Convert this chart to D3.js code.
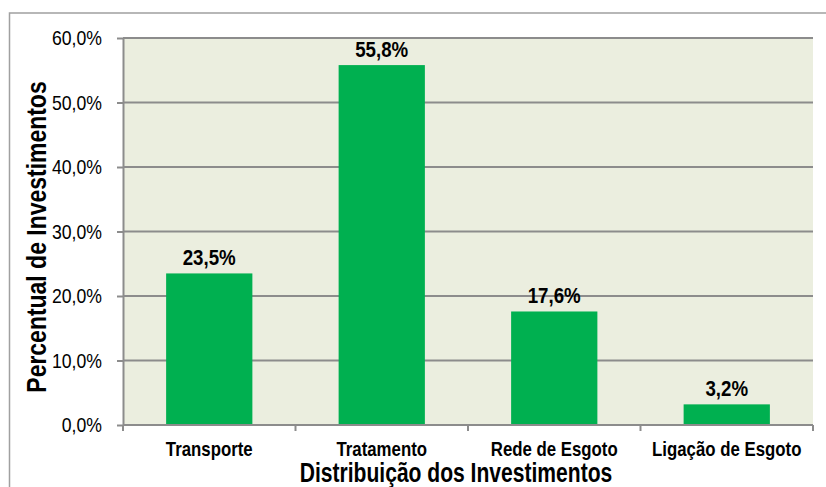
<!DOCTYPE html>
<html>
<head>
<meta charset="utf-8">
<script src="https://cdn.jsdelivr.net/npm/d3@7"></script>
<style>
  body { margin: 0; background: #fff; }
  svg text { font-family: "Liberation Sans", Arial, sans-serif; fill: #000; }
</style>
</head>
<body>
<svg id="chart" width="826" height="487"></svg>
<script>
// Chart values
const categories = ["Transporte", "Tratamento", "Rede de Esgoto", "Ligação de Esgoto"];
const values = [23.5, 55.8, 17.6, 3.2];
const yTicks = [0, 10, 20, 30, 40, 50, 60];

const margin = { top: 38, right: 13, bottom: 62, left: 123 };

const svg = d3.select("#chart");
const width = +svg.attr("width") - margin.left - margin.right;
const height = +svg.attr("height") - margin.top - margin.bottom;

// fake a condensed face by squeezing Liberation Sans horizontally
function condense(sel, k) {
  sel.each(function () {
    const w = this.getComputedTextLength();
    d3.select(this).attr("textLength", w * k).attr("lengthAdjust", "spacingAndGlyphs");
  });
}

// outer chart border (runs off right and bottom edges)
svg.append("rect")
  .attr("x", 9.5).attr("y", 13)
  .attr("width", 840).attr("height", 500)
  .attr("fill", "none")
  .attr("stroke", "#a0a0a0")
  .attr("stroke-width", 1.5);

const g = svg.append("g").attr("transform", `translate(${margin.left},${margin.top})`);

const x = d3.scaleBand().domain(categories).range([0, width]).paddingInner(0.5).paddingOuter(0.25);
const y = d3.scaleLinear().domain([0, 60]).range([height, 0]);

const fmt = v => v.toFixed(1).replace(".", ",") + "%";

// plot background
g.append("rect")
  .attr("width", width).attr("height", height)
  .attr("fill", "#ebeedf");

// gridlines
g.selectAll(".grid")
  .data(yTicks.filter(t => t > 0))
  .join("line")
  .attr("x1", 0).attr("x2", width)
  .attr("y1", d => y(d)).attr("y2", d => y(d))
  .attr("stroke", "#8c8c8c")
  .attr("stroke-width", 2);

// bars
g.selectAll(".bar")
  .data(values)
  .join("rect")
  .attr("x", (d, i) => x(categories[i]))
  .attr("y", d => y(d))
  .attr("width", x.bandwidth())
  .attr("height", d => height - y(d))
  .attr("fill", "#00b050");

// value labels
g.selectAll(".lbl")
  .data(values)
  .join("text")
  .attr("x", (d, i) => x(categories[i]) + x.bandwidth() / 2)
  .attr("y", d => y(d) - 8)
  .attr("text-anchor", "middle")
  .attr("font-size", 22)
  .attr("font-weight", "bold")
  .text(d => fmt(d))
  .call(condense, 0.85);

// y axis
const yAxis = g.append("g")
  .call(d3.axisLeft(y).tickValues(yTicks).tickSize(6).tickSizeOuter(0).tickPadding(15).tickFormat(fmt));
yAxis.select(".domain").attr("stroke", "#8c8c8c").attr("stroke-width", 2);
yAxis.selectAll(".tick line").attr("stroke", "#8c8c8c").attr("stroke-width", 2);
yAxis.selectAll(".tick text").attr("font-size", 21).attr("font-family", null).attr("fill", null)
  .call(condense, 0.84);

// x axis: boundary ticks between categories
const xAxisG = g.append("g").attr("transform", `translate(0,${height})`);
xAxisG.append("line")
  .attr("x1", 0).attr("x2", width)
  .attr("stroke", "#8c8c8c").attr("stroke-width", 2);
xAxisG.selectAll(".sep")
  .data(d3.range(categories.length + 1))
  .join("line")
  .attr("x1", i => i * width / categories.length)
  .attr("x2", i => i * width / categories.length)
  .attr("y1", 0).attr("y2", 6)
  .attr("stroke", "#8c8c8c").attr("stroke-width", 2);
xAxisG.selectAll(".cat")
  .data(categories)
  .join("text")
  .attr("x", d => x(d) + x.bandwidth() / 2)
  .attr("y", 31)
  .attr("text-anchor", "middle")
  .attr("font-size", 21)
  .attr("font-weight", "bold")
  .text(d => d)
  .call(condense, 0.8);

// axis titles
svg.append("text")
  .attr("x", 456)
  .attr("y", 482)
  .attr("text-anchor", "middle")
  .attr("font-size", 27)
  .attr("font-weight", "bold")
  .text("Distribuição dos Investimentos")
  .call(condense, 0.78);

svg.append("text")
  .attr("transform", "translate(46,237) rotate(-90)")
  .attr("text-anchor", "middle")
  .attr("font-size", 28)
  .attr("font-weight", "bold")
  .text("Percentual de Investimentos")
  .call(condense, 0.82);
</script>
</body>
</html>
